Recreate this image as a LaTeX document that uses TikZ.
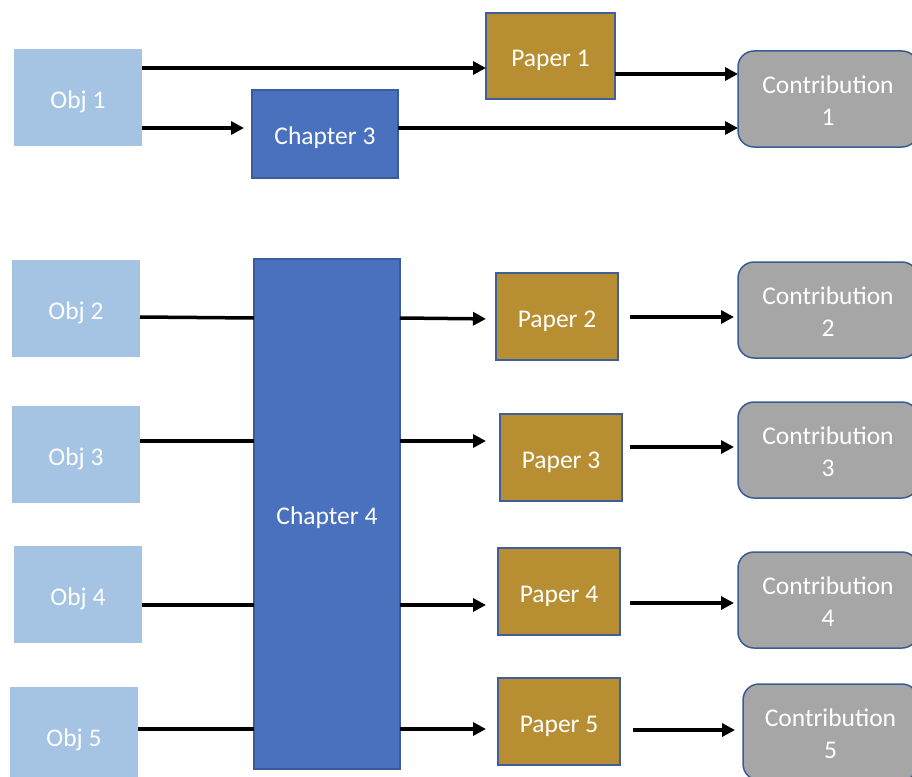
\documentclass[tikz,border=0pt]{standalone}
\usepackage{fontspec}
\setmainfont{Carlito}
\usetikzlibrary{arrows.meta}
\definecolor{objfill}{HTML}{A5C3E3}
\definecolor{chapfill}{HTML}{4A71BD}
\definecolor{chapline}{HTML}{3B5C9A}
\definecolor{paperfill}{HTML}{B78F32}
\definecolor{paperline}{HTML}{3E5F9A}
\definecolor{contfill}{HTML}{A6A6A6}
\definecolor{contline}{HTML}{3A5B93}
% centred box label, set slightly below the middle
\newcommand\boxlabel[1]{\raisebox{-10.7pt}[0pt][0pt]{\begin{tabular}{@{}c@{}}#1\end{tabular}}}
\tikzset{
  box/.style={anchor=north west, inner sep=0pt, outer sep=0pt, text=white,
    font=\fontsize{25.5}{32}\selectfont},
  objbox/.style={box, fill=objfill},
  chapbox/.style={box, fill=chapfill, draw=chapline, line width=1.5pt},
  paperbox/.style={box, fill=paperfill, draw=paperline, line width=1.5pt},
  contbox/.style={box, fill=contfill, draw=contline, line width=1.5pt, rounded corners=16pt},
  link/.style={line width=3.5pt, black},
  arr/.style={link, -{Triangle[length=13pt,width=13pt]}},
}
\begin{document}
\begin{tikzpicture}[x=1pt,y=-1pt]
\useasboundingbox (0,0) rectangle (912,776);
\clip (0,0) rectangle (912,776);

% objectives
\node[objbox, minimum width=128pt, minimum height=97pt] (o1) at (14,49) {\boxlabel{Obj 1}};
\node[objbox, minimum width=128pt, minimum height=97pt] (o2) at (12,260) {\boxlabel{Obj 2}};
\node[objbox, minimum width=128pt, minimum height=97pt] (o3) at (12,406) {\boxlabel{Obj 3}};
\node[objbox, minimum width=128pt, minimum height=97pt] (o4) at (14,546) {\boxlabel{Obj 4}};
\node[objbox, minimum width=128pt, minimum height=97pt] (o5) at (10,687) {\boxlabel{Obj 5}};

% chapters
\node[chapbox, minimum width=146pt, minimum height=88pt] (c3) at (252,90) {\boxlabel{Chapter 3}};
\node[chapbox, minimum width=146pt, minimum height=510pt] (c4) at (254,259) {\boxlabel{Chapter 4}};

% papers
\node[paperbox, minimum width=129pt, minimum height=86pt] (p1) at (486,13) {\boxlabel{Paper 1}};
\node[paperbox, minimum width=122pt, minimum height=87pt] (p2) at (496,273) {\boxlabel{Paper 2}};
\node[paperbox, minimum width=122pt, minimum height=87pt] (p3) at (500,414) {\boxlabel{Paper 3}};
\node[paperbox, minimum width=122pt, minimum height=87pt] (p4) at (498,548) {\boxlabel{Paper 4}};
\node[paperbox, minimum width=122pt, minimum height=87pt] (p5) at (498,678) {\boxlabel{Paper 5}};

% contributions
\node[contbox, minimum width=180pt, minimum height=96pt] (k1) at (738,51) {\boxlabel{Contribution\\1}};
\node[contbox, minimum width=180pt, minimum height=96pt] (k2) at (738,262) {\boxlabel{Contribution\\2}};
\node[contbox, minimum width=180pt, minimum height=96pt] (k3) at (738,402) {\boxlabel{Contribution\\3}};
\node[contbox, minimum width=180pt, minimum height=96pt] (k4) at (738,552) {\boxlabel{Contribution\\4}};
\node[contbox, minimum width=175pt, minimum height=96pt] (k5) at (743,684) {\boxlabel{Contribution\\5}};

% top group
\draw[arr] (o1.east |- 0,68) -- (p1.west |- 0,68);
\draw[arr, shorten >=8pt] (o1.east |- 0,128) -- (c3.west |- 0,128);
\draw[arr] (p1.east |- 0,74) -- (k1.west |- 0,74);
\draw[arr] (c3.east |- 0,128) -- (k1.west |- 0,128);

% objectives into chapter 4
\draw[link] (o2.east |- 0,317) -- (c4.west |- 0,318);
\draw[link] (o3.east |- 0,441) -- (c4.west |- 0,441);
\draw[link] (o4.east |- 0,605) -- (c4.west |- 0,605);
\draw[link] (o5.east |- 0,729) -- (c4.west |- 0,729);

% chapter 4 into papers
\draw[arr, shorten >=10pt] (c4.east |- 0,318) -- (p2.west |- 0,319);
\draw[arr, shorten >=14pt] (c4.east |- 0,441) -- (p3.west |- 0,441);
\draw[arr, shorten >=12pt] (c4.east |- 0,605) -- (p4.west |- 0,605);
\draw[arr, shorten >=12pt] (c4.east |- 0,729) -- (p5.west |- 0,729);

% papers into contributions
\draw[arr, shorten <=12pt, shorten >=4pt] (p2.east |- 0,317) -- (k2.west |- 0,317);
\draw[arr, shorten <=8pt, shorten >=4pt] (p3.east |- 0,447) -- (k3.west |- 0,447);
\draw[arr, shorten <=10pt, shorten >=4pt] (p4.east |- 0,603) -- (k4.west |- 0,603);
\draw[arr, shorten <=13pt, shorten >=8pt] (p5.east |- 0,730) -- (k5.west |- 0,730);
\end{tikzpicture}
\end{document}
